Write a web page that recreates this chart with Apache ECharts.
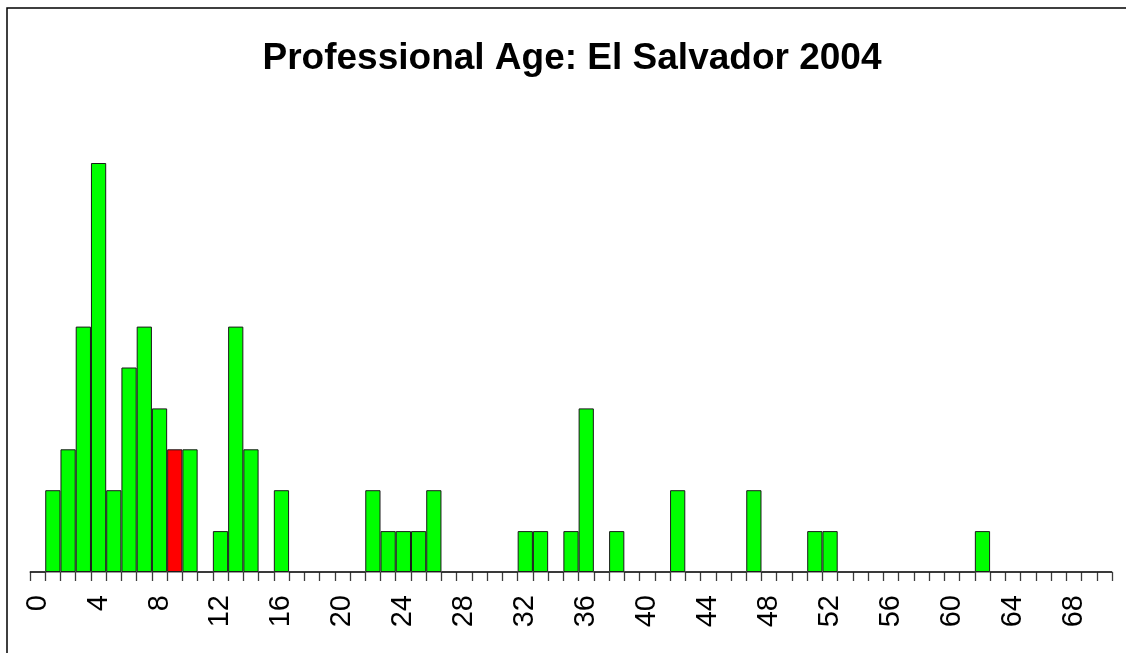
<!DOCTYPE html>
<html>
<head>
<meta charset="utf-8">
<title>Professional Age: El Salvador 2004</title>
<script src="https://cdn.jsdelivr.net/npm/echarts@6/dist/echarts.min.js"></script>
<style>
  html, body { margin: 0; padding: 0; background: #ffffff; }
  #chart { width: 1126px; height: 653px; }
</style>
</head>
<body>
<div id="chart"></div>
<script>
  // years of professional age, one bin per year
  var ages = [];
  for (var a = 0; a <= 70; a++) ages.push(String(a));

  var counts = [
    0, 2, 3, 6, 10, 2, 5, 6, 4, 3,
    3, 0, 1, 6, 3, 0, 2, 0, 0, 0,
    0, 0, 2, 1, 1, 1, 2, 0, 0, 0,
    0, 0, 1, 1, 0, 1, 4, 0, 1, 0,
    0, 0, 2, 0, 0, 0, 0, 2, 0, 0,
    0, 1, 1, 0, 0, 0, 0, 0, 0, 0,
    0, 0, 1, 0, 0, 0, 0, 0, 0, 0,
    0
  ];

  var highlightAge = 9;   // red bar
  var yMax = 10;

  var chart = echarts.init(document.getElementById('chart'));

  var barData = counts.map(function (v, i) {
    if (i === highlightAge) {
      return { value: v, itemStyle: { color: '#ff0000' } };
    }
    return v;
  });

  var option = {
    backgroundColor: '#ffffff',
    animation: false,
    textStyle: { fontFamily: 'Liberation Sans, Arial, sans-serif' },
    title: {
      text: 'Professional Age: El Salvador 2004',
      left: 567,
      textAlign: 'center',
      top: 35,
      textStyle: {
        fontSize: 37,
        fontWeight: 'bold',
        color: '#000000',
        fontFamily: 'Liberation Sans, Arial, sans-serif'
      }
    },
    // page frame: only left and top edges fall inside the picture
    graphic: [{
      type: 'polyline',
      silent: true,
      shape: { points: [[7, 700], [7, 8], [1200, 8]] },
      style: { fill: 'none', stroke: '#000000', lineWidth: 1.5 }
    }],
    grid: { left: 30, right: 14, top: 163, bottom: 81 },
    xAxis: {
      type: 'category',
      data: ages,
      boundaryGap: true,
      axisLine: { show: true, lineStyle: { color: '#7a7a7a', width: 1.5 } },
      axisTick: {
        show: true,
        interval: 0,
        alignWithLabel: false,
        length: 9,
        lineStyle: { color: '#3c3c3c', width: 1.3 }
      },
      axisLabel: {
        show: true,
        interval: 3,
        rotate: 90,
        margin: 23,
        fontSize: 29,
        color: '#000000',
        fontFamily: 'Liberation Sans, Arial, sans-serif'
      },
      splitLine: { show: false }
    },
    yAxis: {
      type: 'value',
      min: 0,
      max: yMax,
      show: false
    },
    series: [{
      type: 'bar',
      data: barData,
      barCategoryGap: '0%',
      barGap: '0%',
      itemStyle: {
        color: '#00ff00',
        borderColor: '#1a1a1a',
        borderWidth: 1
      }
    }]
  };

  chart.setOption(option);
</script>
</body>
</html>
